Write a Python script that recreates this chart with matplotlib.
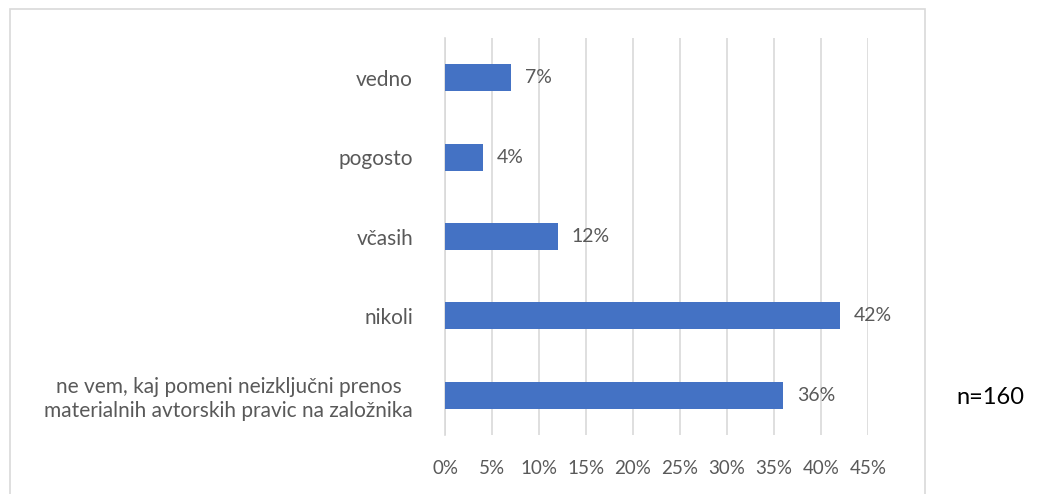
import matplotlib.pyplot as plt
from matplotlib.patches import Rectangle

categories = ["vedno", "pogosto", "včasih", "nikoli",
              "ne vem, kaj pomeni neizključni prenos\nmaterialnih avtorskih pravic na založnika"]
values = [7, 4, 12, 42, 36]
xticks = [0, 5, 10, 15, 20, 25, 30, 35, 40, 45]
note = "n=160"

plt.rcParams['font.family'] = ['Lato', 'DejaVu Sans']
txt = '#595959'

fig = plt.figure(figsize=(10.4, 4.94), dpi=100)
ax = fig.add_axes([0.4279, 0.1194, 0.4067, 0.8036])

# outer chart border (runs past the bottom edge)
fig.patches.append(Rectangle((10 / 1040, -0.05), 915 / 1040, 1 - 9 / 494 + 0.05,
                             transform=fig.transFigure, fill=False,
                             edgecolor='#d9d9d9', lw=1.2))

ypos = list(range(len(categories)))
ax.barh(ypos, values, height=0.34, color='#4472C4', zorder=3)
for y, v in zip(ypos, values):
    ax.text(v + 1.5, y, f"{v}%", va='center', ha='left', fontsize=14, color=txt)

ax.set_xlim(0, 45)
ax.set_ylim(len(categories) - 0.5, -0.5)
ax.set_xticks(xticks)
ax.set_xticklabels([f"{t}%" for t in xticks], fontsize=13.5, color=txt)
ax.set_yticks(ypos)
ax.set_yticklabels(categories, fontsize=15, color=txt, multialignment='center')
ax.tick_params(length=0)
ax.tick_params(axis='y', pad=23)
ax.tick_params(axis='x', pad=18)
ax.grid(axis='x', color='#d9d9d9', lw=1.2, zorder=0)
for s in ['top', 'right', 'bottom']:
    ax.spines[s].set_visible(False)
ax.spines['left'].set_color('#d9d9d9')
ax.spines['left'].set_linewidth(1.2)

fig.text(990 / 1040, 1 - 397 / 494, note, ha='center', va='center', fontsize=17, color='black')

fig.savefig('out.png', dpi=100)
